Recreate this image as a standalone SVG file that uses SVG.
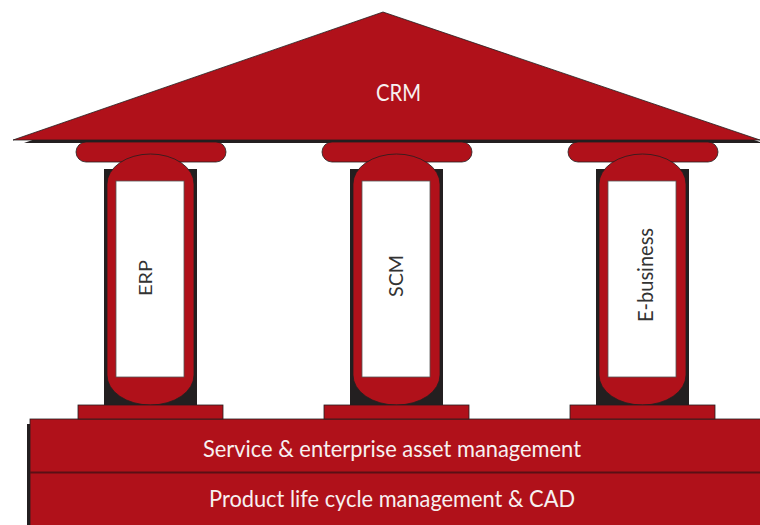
<svg xmlns="http://www.w3.org/2000/svg" width="760" height="525" viewBox="0 0 760 525">
<defs>
<style>
.red{fill:#B0111A;stroke:#231F20;stroke-width:0.8}
.dark{fill:#231F20}
.win{fill:#ffffff;stroke:#555;stroke-width:0.8}
.lt{font-family:Lato,"Liberation Sans",Arial,sans-serif;font-weight:400;fill:#F7F0F0}
.vt{font-family:Lato,"Liberation Sans",Arial,sans-serif;font-weight:400;fill:#333333}
</style>
<g id="col">
<rect class="dark" x="104" y="169" width="93" height="236"/>
<rect class="red" x="76" y="142" width="150" height="20" rx="10" ry="10"/>
<path class="red" d="M107,184 A43.5,30 0 0 1 194,184 L194,375 A43.5,30 0 0 1 107,375 Z"/>
<rect class="win" x="116" y="181" width="68" height="196"/>
<rect class="red" x="78" y="405" width="145" height="14"/>
</g>
</defs>
<rect width="760" height="525" fill="#ffffff"/>
<g id="foundation">
<rect class="dark" x="27" y="424" width="4" height="101"/>
<rect class="red" x="30" y="419" width="735" height="110"/>
<line x1="30" y1="472.5" x2="760" y2="472.5" stroke="#5A1015" stroke-width="2"/>
<text class="lt" x="392" y="457" font-size="23" text-anchor="middle" textLength="378" lengthAdjust="spacingAndGlyphs">Service &amp; enterprise asset management</text>
<text class="lt" x="392" y="507" font-size="23" text-anchor="middle" textLength="366" lengthAdjust="spacingAndGlyphs">Product life cycle management &amp; CAD</text>
</g>
<g id="roof">
<polygon class="dark" points="24,143 385,15 763,143"/>
<polygon class="red" points="13,140 383,12 760,140"/>
<text class="lt" x="398.5" y="101" font-size="24" text-anchor="middle" textLength="45" lengthAdjust="spacingAndGlyphs">CRM</text>
</g>
<g id="erp">
<use href="#col"/>
<text class="vt" transform="translate(152,278) rotate(-90)" font-size="17" text-anchor="middle" textLength="36" lengthAdjust="spacingAndGlyphs">ERP</text>
</g>
<g id="scm">
<use href="#col" x="246"/>
<text class="vt" transform="translate(403,276) rotate(-90)" font-size="20" text-anchor="middle" textLength="42" lengthAdjust="spacingAndGlyphs">SCM</text>
</g>
<g id="ebusiness">
<use href="#col" x="492"/>
<text class="vt" transform="translate(653,275) rotate(-90)" font-size="22" text-anchor="middle" textLength="94" lengthAdjust="spacingAndGlyphs">E-business</text>
</g>
<g id="connectors"/>
</svg>
